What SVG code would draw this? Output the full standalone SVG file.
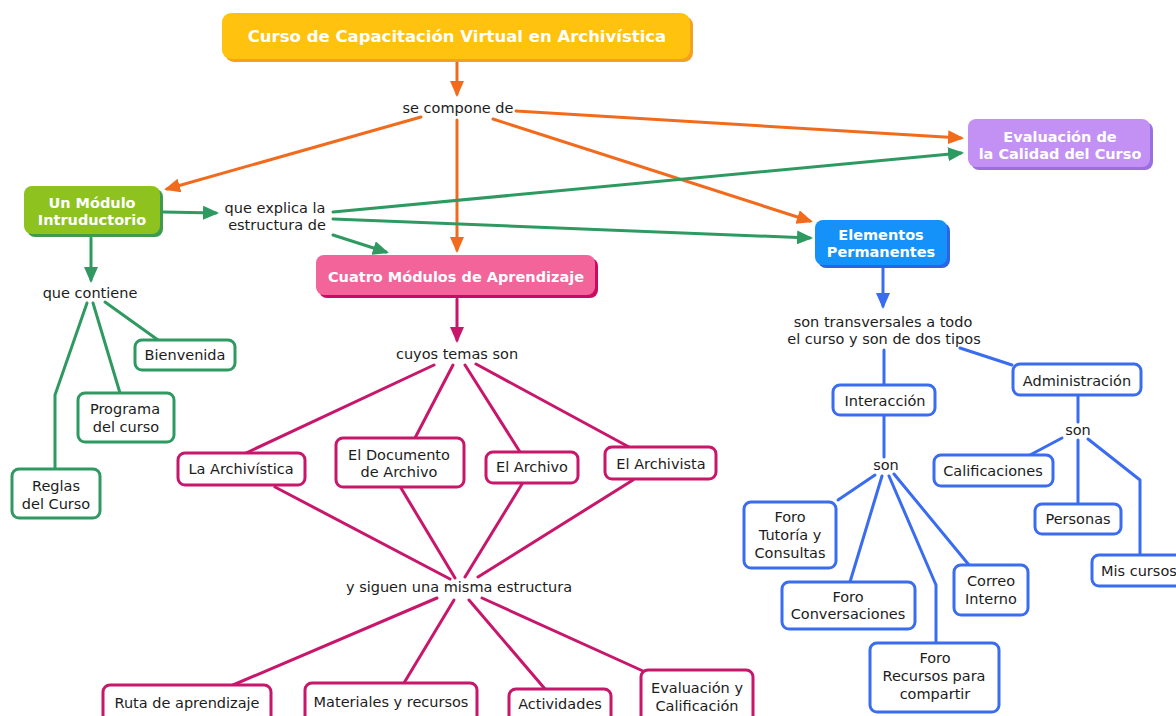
<svg xmlns="http://www.w3.org/2000/svg" width="1176" height="716" viewBox="0 0 1176 716">
<style>
text{font-family:"DejaVu Sans",Verdana,sans-serif;font-size:14.5px;fill:#1c1c1c;text-anchor:middle}
.h{font-weight:bold;fill:#ffffff}
.t{font-size:16.5px}
.c{fill:none;stroke-width:3;stroke-linecap:round;stroke-linejoin:round}
.o{stroke:#f26b1d}
.g{stroke:#2e9a62}
.p{stroke:#c8176b}
.b{stroke:#3a6cf0}
.wb{fill:#ffffff;stroke-width:3}
.wg{stroke:#2e9a62}
.wp{stroke:#c8176b}
.wbl{stroke:#3a6cf0}
</style>
<defs>
<marker id="ao" markerUnits="userSpaceOnUse" viewBox="0 0 16 14" markerWidth="16" markerHeight="14" refX="13" refY="7" orient="auto"><path d="M0,0 L16,7 L0,14 z" fill="#f26b1d"/></marker>
<marker id="ag" markerUnits="userSpaceOnUse" viewBox="0 0 16 14" markerWidth="16" markerHeight="14" refX="13" refY="7" orient="auto"><path d="M0,0 L16,7 L0,14 z" fill="#2e9a62"/></marker>
<marker id="ap" markerUnits="userSpaceOnUse" viewBox="0 0 16 14" markerWidth="16" markerHeight="14" refX="13" refY="7" orient="auto"><path d="M0,0 L16,7 L0,14 z" fill="#c8176b"/></marker>
<marker id="ab" markerUnits="userSpaceOnUse" viewBox="0 0 16 14" markerWidth="16" markerHeight="14" refX="13" refY="7" orient="auto"><path d="M0,0 L16,7 L0,14 z" fill="#3a6cf0"/></marker>
</defs>
<rect width="1176" height="716" fill="#ffffff"/>

<g id="connectors">
<path class="c o" d="M457,62 L457,94" marker-end="url(#ao)"/>
<path class="c o" d="M421,117 L167,189" marker-end="url(#ao)"/>
<path class="c o" d="M457,120 L457,250" marker-end="url(#ao)"/>
<path class="c o" d="M493,119 L810,221" marker-end="url(#ao)"/>
<path class="c o" d="M516,111 L961,138" marker-end="url(#ao)"/>

<path class="c g" d="M163,212 L216,213" marker-end="url(#ag)"/>
<path class="c g" d="M333,212 L961,153" marker-end="url(#ag)"/>
<path class="c g" d="M333,219 L810,238" marker-end="url(#ag)"/>
<path class="c g" d="M333,235 L386,252" marker-end="url(#ag)"/>
<path class="c g" d="M91,238 L91,280" marker-end="url(#ag)"/>
<path class="c g" d="M87,303 L55,395 L55,470"/>
<path class="c g" d="M93,303 L120,393"/>
<path class="c g" d="M105,302 L158,340"/>

<path class="c p" d="M457,299 L457,340" marker-end="url(#ap)"/>
<path class="c p" d="M434,365 L246,453"/>
<path class="c p" d="M453,365 L415,438"/>
<path class="c p" d="M465,365 L520,452"/>
<path class="c p" d="M476,364 L629,447"/>
<path class="c p" d="M275,487 L450,579"/>
<path class="c p" d="M401,488 L455,578"/>
<path class="c p" d="M522,484 L465,577"/>
<path class="c p" d="M633,480 L478,577"/>
<path class="c p" d="M437,598 L233,685"/>
<path class="c p" d="M454,600 L404,683"/>
<path class="c p" d="M469,600 L545,689"/>
<path class="c p" d="M482,598 L643,671"/>

<path class="c b" d="M883,268 L883,306" marker-end="url(#ab)"/>
<path class="c b" d="M884,350 L884,385"/>
<path class="c b" d="M960,348 L1012,365"/>
<path class="c b" d="M884,415 L884,457"/>
<path class="c b" d="M875,475 L838,500"/>
<path class="c b" d="M882,476 L850,582"/>
<path class="c b" d="M889,476 L936,585 L936,643"/>
<path class="c b" d="M894,474 L969,565"/>
<path class="c b" d="M1078,396 L1078,422"/>
<path class="c b" d="M1062,438 L1030,455"/>
<path class="c b" d="M1078,440 L1078,504"/>
<path class="c b" d="M1088,439 L1140,480 L1140,555"/>
</g>

<g id="n-title">
<rect x="225" y="16" width="468" height="46" rx="9" fill="#f5a01e"/>
<rect x="222" y="13" width="468" height="46" rx="9" fill="#ffc30f"/>
<text class="h t" x="457" y="42">Curso de Capacitación Virtual en Archivística</text>
</g>
<g id="n-secompone"><text x="458" y="113">se compone de</text></g>

<g id="n-modulo">
<rect x="27" y="189" width="136" height="48" rx="8" fill="#3f9a4f"/>
<rect x="24" y="186" width="136" height="48" rx="8" fill="#8dc21f"/>
<text class="h" x="92" y="208">Un Módulo</text>
<text class="h" x="92" y="225">Intruductorio</text>
</g>
<g id="n-queexplica">
<text x="275" y="213">que explica la</text>
<text x="277" y="230">estructura de</text>
</g>
<g id="n-cuatro">
<rect x="319" y="258" width="279" height="40" rx="8" fill="#cc0a64"/>
<rect x="316" y="255" width="279" height="40" rx="8" fill="#f2649a"/>
<text class="h" x="456" y="282">Cuatro Módulos de Aprendizaje</text>
</g>
<g id="n-evalcal">
<rect x="971" y="122" width="182" height="48" rx="8" fill="#9c6fe0"/>
<rect x="968" y="119" width="182" height="48" rx="8" fill="#c391f4"/>
<text class="h" x="1060" y="142">Evaluación de</text>
<text class="h" x="1060" y="159">la Calidad del Curso</text>
</g>
<g id="n-elementos">
<rect x="818" y="223" width="132" height="45" rx="8" fill="#2d63e6"/>
<rect x="815" y="220" width="132" height="45" rx="8" fill="#1492fa"/>
<text class="h" x="881" y="240">Elementos</text>
<text class="h" x="881" y="257">Permanentes</text>
</g>

<g id="n-quecontiene"><text x="90" y="298">que contiene</text></g>
<g id="n-bienvenida">
<rect class="wb wg" x="135" y="340" width="100" height="30" rx="7"/>
<text x="185" y="360">Bienvenida</text>
</g>
<g id="n-programa">
<rect class="wb wg" x="78" y="393" width="96" height="49" rx="7"/>
<text x="125" y="414">Programa</text>
<text x="126" y="432">del curso</text>
</g>
<g id="n-reglas">
<rect class="wb wg" x="12" y="469" width="88" height="49" rx="7"/>
<text x="56" y="491">Reglas</text>
<text x="56" y="509">del Curso</text>
</g>

<g id="n-cuyos"><text x="457" y="359">cuyos temas son</text></g>
<g id="n-archivistica">
<rect class="wb wp" x="178" y="453" width="127" height="32" rx="7"/>
<text x="241" y="474">La Archivística</text>
</g>
<g id="n-documento">
<rect class="wb wp" x="336" y="438" width="128" height="49" rx="7"/>
<text x="399" y="460">El Documento</text>
<text x="399" y="477">de Archivo</text>
</g>
<g id="n-archivo">
<rect class="wb wp" x="486" y="452" width="92" height="31" rx="7"/>
<text x="532" y="472">El Archivo</text>
</g>
<g id="n-archivista">
<rect class="wb wp" x="605" y="447" width="111" height="32" rx="7"/>
<text x="661" y="469">El Archivista</text>
</g>
<g id="n-siguen"><text x="459" y="592">y siguen una misma estructura</text></g>
<g id="n-ruta">
<rect class="wb wp" x="103" y="685" width="168" height="40" rx="7"/>
<text x="187" y="708">Ruta de aprendizaje</text>
</g>
<g id="n-materiales">
<rect class="wb wp" x="305" y="683" width="172" height="40" rx="7"/>
<text x="391" y="707">Materiales y recursos</text>
</g>
<g id="n-actividades">
<rect class="wb wp" x="509" y="689" width="102" height="40" rx="7"/>
<text x="560" y="709">Actividades</text>
</g>
<g id="n-evalcalif">
<rect class="wb wp" x="641" y="670" width="112" height="60" rx="7"/>
<text x="697" y="693">Evaluación y</text>
<text x="697" y="711">Calificación</text>
</g>

<g id="n-transversales">
<text x="883" y="327">son transversales a todo</text>
<text x="884" y="344">el curso y son de dos tipos</text>
</g>
<g id="n-interaccion">
<rect class="wb wbl" x="833" y="385" width="102" height="30" rx="7"/>
<text x="885" y="406">Interacción</text>
</g>
<g id="n-administracion">
<rect class="wb wbl" x="1013" y="364" width="128" height="31" rx="7"/>
<text x="1077" y="386">Administración</text>
</g>
<g id="n-son1"><text x="886" y="470">son</text></g>
<g id="n-son2"><text x="1078" y="435">son</text></g>
<g id="n-tutoria">
<rect class="wb wbl" x="744" y="502" width="92" height="66" rx="7"/>
<text x="790" y="522">Foro</text>
<text x="790" y="540">Tutoría y</text>
<text x="790" y="558">Consultas</text>
</g>
<g id="n-conversaciones">
<rect class="wb wbl" x="782" y="582" width="133" height="47" rx="7"/>
<text x="848" y="602">Foro</text>
<text x="848" y="619">Conversaciones</text>
</g>
<g id="n-recursos">
<rect class="wb wbl" x="870" y="643" width="129" height="69" rx="7"/>
<text x="935" y="663">Foro</text>
<text x="934" y="681">Recursos para</text>
<text x="935" y="699">compartir</text>
</g>
<g id="n-correo">
<rect class="wb wbl" x="954" y="565" width="74" height="50" rx="7"/>
<text x="991" y="586">Correo</text>
<text x="991" y="604">Interno</text>
</g>
<g id="n-calificaciones">
<rect class="wb wbl" x="934" y="455" width="119" height="31" rx="7"/>
<text x="993" y="476">Calificaciones</text>
</g>
<g id="n-personas">
<rect class="wb wbl" x="1035" y="504" width="86" height="30" rx="7"/>
<text x="1078" y="524">Personas</text>
</g>
<g id="n-miscursos">
<rect class="wb wbl" x="1092" y="555" width="100" height="31" rx="7"/>
<text x="1101" y="576" style="text-anchor:start">Mis cursos</text>
</g>
</svg>
